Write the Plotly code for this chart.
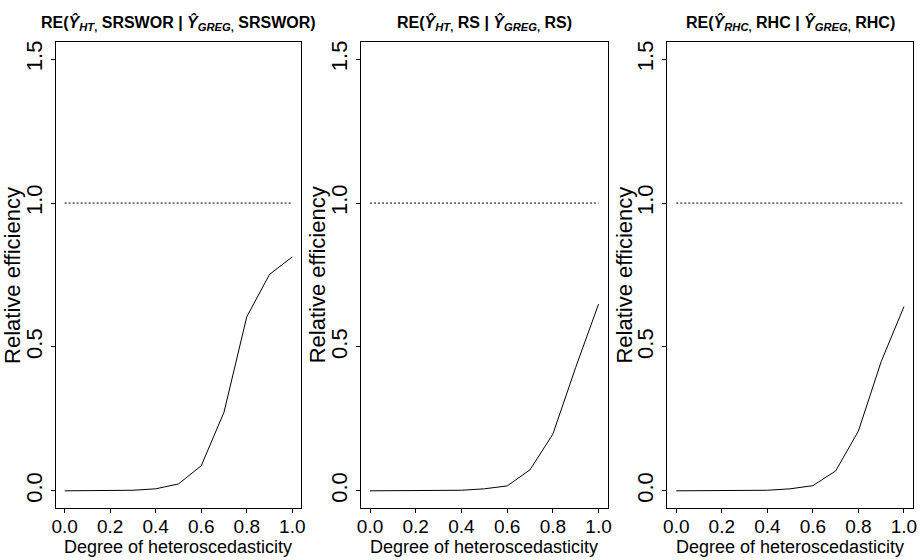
import plotly.graph_objects as go

# Data
heteroscedasticity = [0.0, 0.1, 0.2, 0.3, 0.4, 0.5, 0.6, 0.7, 0.8, 0.9, 1.0]
re_srswor = [0.0, 0.0, 0.0005, 0.002, 0.007, 0.024, 0.087, 0.273, 0.605, 0.752, 0.813]
re_rs = [0.0, 0.0, 0.0, 0.0005, 0.002, 0.007, 0.017, 0.073, 0.197, 0.429, 0.649]
re_rhc = [0.0, 0.0, 0.0, 0.0005, 0.002, 0.007, 0.018, 0.069, 0.208, 0.449, 0.640]
reference_level = 1.0
x_ticks = [0.0, 0.2, 0.4, 0.6, 0.8, 1.0]
x_tick_labels = ["0.0", "0.2", "0.4", "0.6", "0.8", "1.0"]
y_ticks = [0.0, 0.5, 1.0, 1.5]
y_tick_labels = ["0.0", "0.5", "1.0", "1.5"]
x_title = "Degree of heteroscedasticity"
y_title = "Relative efficiency"
titles = [
    "<b>RE(<i>Ŷ</i><sub><i>HT</i>,</sub> SRSWOR | <i>Ŷ</i><sub><i>GREG</i>,</sub> SRSWOR)</b>",
    "<b>RE(<i>Ŷ</i><sub><i>HT</i>,</sub> RS | <i>Ŷ</i><sub><i>GREG</i>,</sub> RS)</b>",
    "<b>RE(<i>Ŷ</i><sub><i>RHC</i>,</sub> RHC | <i>Ŷ</i><sub><i>GREG</i>,</sub> RHC)</b>",
]
series = [re_srswor, re_rs, re_rhc]

W, H = 922, 560
x_domains_px = [(52, 300), (360, 609), (669, 917)]
y_domain = [1 - 508 / H, 1 - 41 / H]

font = "Liberation Sans, Arial, sans-serif"

fig = go.Figure()
annotations = []
for i, (vals, title) in enumerate(zip(series, titles)):
    xa = "x" if i == 0 else f"x{i+1}"
    ya = "y" if i == 0 else f"y{i+1}"
    fig.add_trace(go.Scatter(x=heteroscedasticity, y=vals, mode="lines",
                             line=dict(color="black", width=1),
                             xaxis=xa, yaxis=ya, showlegend=False, hoverinfo="x+y"))
    fig.add_trace(go.Scatter(x=[heteroscedasticity[0], heteroscedasticity[-1]],
                             y=[reference_level, reference_level], mode="lines",
                             line=dict(color="black", width=1, dash="2px,2px"),
                             xaxis=xa, yaxis=ya, showlegend=False, hoverinfo="skip"))
    x0, x1 = x_domains_px[i]
    dom = [x0 / W, x1 / W]
    axis_common = dict(showline=True, linecolor="black", linewidth=1, mirror=True,
                       ticks="outside", ticklen=4, tickcolor="black", tickwidth=1,
                       showgrid=False, zeroline=False)
    fig.layout[("xaxis" if i == 0 else f"xaxis{i+1}")] = dict(
        domain=dom, range=[-0.04, 1.04], tickvals=x_ticks, ticktext=x_tick_labels,
        anchor=ya, tickfont=dict(family=font, size=19, color="black"),
        ticklabelstandoff=-3,
        **axis_common)
    fig.layout[("yaxis" if i == 0 else f"yaxis{i+1}")] = dict(
        domain=y_domain, range=[-0.06, 1.56], tickvals=y_ticks, ticktext=y_tick_labels,
        anchor=xa, tickangle=-90, tickfont=dict(family=font, size=22, color="black"),
        **axis_common)
    # panel title
    annotations.append(dict(text=title, x=(x0 + x1) / 2 / W, y=1 - 22 / H,
                            xref="paper", yref="paper", xanchor="center", yanchor="middle",
                            showarrow=False,
                            font=dict(family=font, size=16, color="black")))
    # x axis title
    annotations.append(dict(text=x_title, x=(x0 + x1) / 2 / W, y=1 - 547 / H,
                            xref="paper", yref="paper", xanchor="center", yanchor="middle",
                            showarrow=False,
                            font=dict(family=font, size=18, color="black")))
    # y axis title
    annotations.append(dict(text=y_title, x=(x0 - 44) / W, y=(y_domain[0] + y_domain[1]) / 2,
                            xref="paper", yref="paper", xanchor="center", yanchor="middle",
                            textangle=-90, showarrow=False,
                            font=dict(family=font, size=22, color="black")))

fig.update_layout(width=W, height=H, margin=dict(l=0, r=0, t=0, b=0),
                  paper_bgcolor="white", plot_bgcolor="white",
                  annotations=annotations)
fig.write_html("out.html", config={"displayModeBar": False},
               post_script="document.body.style.margin='0';")
